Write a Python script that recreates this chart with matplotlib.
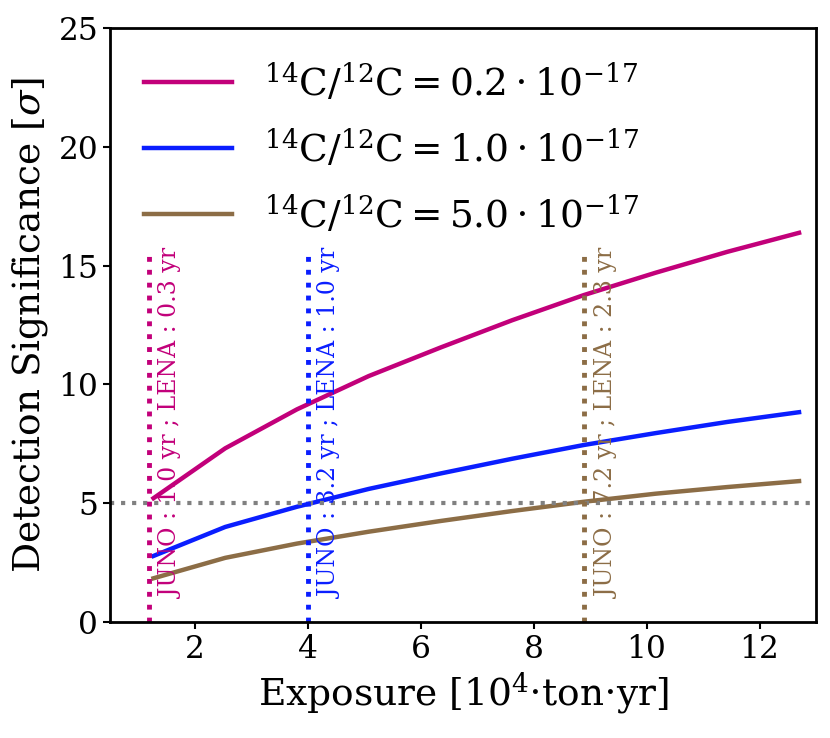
import matplotlib
matplotlib.use("Agg")
import matplotlib.pyplot as plt

plt.rcParams['font.family'] = ['DejaVu Serif']
plt.rcParams['mathtext.fontset'] = 'dejavuserif'

exposure = [1.27, 2.54, 3.81, 5.08, 6.35, 7.62, 8.89, 10.16, 11.43, 12.70]
sig_02 = [5.21, 7.31, 8.95, 10.35, 11.55, 12.70, 13.76, 14.70, 15.58, 16.38]
sig_10 = [2.78, 4.00, 4.85, 5.60, 6.25, 6.87, 7.45, 7.95, 8.42, 8.83]
sig_50 = [1.84, 2.70, 3.30, 3.80, 4.25, 4.67, 5.06, 5.40, 5.68, 5.93]

labels = [r'$^{14}\mathrm{C}/^{12}\mathrm{C} = 0.2\cdot10^{-17}$',
          r'$^{14}\mathrm{C}/^{12}\mathrm{C} = 1.0\cdot10^{-17}$',
          r'$^{14}\mathrm{C}/^{12}\mathrm{C} = 5.0\cdot10^{-17}$']
colors = ['#C2007A', '#0A1EFF', '#8C6D46']

cross_x = [1.19, 4.0, 8.9]
cross_text = ['JUNO : 1.0 yr ; LENA : 0.3 yr',
              'JUNO : 3.2 yr ; LENA : 1.0 yr',
              'JUNO : 7.2 yr ; LENA : 2.3 yr']

fig = plt.figure(figsize=(8.3, 7.38), dpi=100)
ax = fig.add_axes([110/830, 1-622/738, 706/830, 594/738])

for ys, c, lab in zip([sig_02, sig_10, sig_50], colors, labels):
    ax.plot(exposure, ys, color=c, lw=3.2, label=lab)

ax.axhline(5, color='#808080', lw=3, ls=':')
for xv, c, t in zip(cross_x, colors, cross_text):
    ax.axvline(xv, ymin=0, ymax=0.62, color=c, lw=3.5, ls=':')
    ax.text(xv + 0.2, 1.0, t, rotation=90, color=c, fontsize=17,
            ha='left', va='bottom')

ax.set_xlim(0.5, 13.0)
ax.set_ylim(0, 25)
ax.set_xticks([2, 4, 6, 8, 10, 12])
ax.set_yticks([0, 5, 10, 15, 20, 25])
ax.tick_params(labelsize=22.5, width=1.5, length=5)
for s in ax.spines.values():
    s.set_linewidth(2)
ax.set_xlabel(r'Exposure [10$^4$$\cdot$ton$\cdot$yr]', fontsize=27, labelpad=4)
ax.set_ylabel(r'Detection Significance [$\sigma$]', fontsize=27, labelpad=6)
ax.legend(loc='upper left', fontsize=27, frameon=False, handlelength=2.35,
          handletextpad=0.85, labelspacing=0.65)

fig.savefig('out.png', dpi=100)
